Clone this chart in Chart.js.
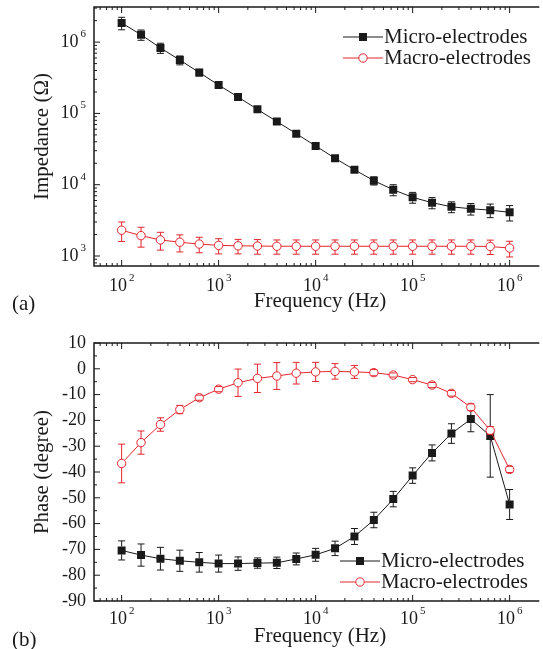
<!DOCTYPE html>
<html>
<head>
<meta charset="utf-8">
<script src="https://cdn.jsdelivr.net/npm/chart.js@4.4.0/dist/chart.umd.min.js"></script>
<style>
html,body{margin:0;background:#fff;overflow:hidden}
#wrap{position:relative;width:543px;height:649px;overflow:hidden}
canvas{position:absolute;left:0}
#chartA{top:0}
#chartB{top:318px}
</style>
</head>
<body>
<div id="wrap">
<canvas id="chartA" width="543" height="318"></canvas>
<canvas id="chartB" width="543" height="331"></canvas>
</div>
<script>
// measurement frequencies (Hz), 5 points per decade
const freq = [100, 158.5, 251.2, 398.1, 631, 1000, 1585, 2512, 3981, 6310, 10000,
  15850, 25120, 39810, 63100, 100000, 158500, 251200, 398100, 631000, 1000000];

const seriesNames = ['Micro-electrodes', 'Macro-electrodes'];

// (a) impedance magnitude (ohm) and SD
const microZ = [1.86e6, 1.27e6, 8.3e5, 5.6e5, 3.75e5, 2.5e5, 1.7e5, 1.14e5, 7.7e4, 5.2e4, 3.5e4,
  2.35e4, 1.62e4, 1.14e4, 8.5e3, 6.65e3, 5.6e3, 4.9e3, 4.6e3, 4.4e3, 4.1e3];
const microZErr = [3.7e5, 2.1e5, 1.35e5, 8e4, 4e4, 2e4, 1.2e4, 8e3, 6e3, 4e3, 2.5e3,
  1.8e3, 1.2e3, 1.5e3, 1.5e3, 1.15e3, 1.0e3, 850, 850, 950, 1000];
const macroZ = [2300, 1930, 1680, 1560, 1470, 1410, 1390, 1380, 1370, 1370, 1370,
  1370, 1370, 1370, 1370, 1370, 1370, 1370, 1370, 1360, 1290];
const macroZErr = [700, 600, 470, 420, 360, 340, 320, 320, 310, 310, 310,
  310, 310, 310, 310, 310, 310, 310, 310, 310, 320];

// (b) phase (degree) and SD
const microPhase = [-70.4, -72.2, -73.6, -74.4, -75.0, -75.5, -75.5, -75.3, -75.2, -73.7, -72.1,
  -69.6, -65.0, -58.6, -50.5, -41.4, -32.6, -25.1, -19.5, -26.0, -52.6];
const microPhaseErr = [3.7, 4.3, 4.4, 4.1, 3.8, 3.3, 2.6, 2.0, 2.2, 2.3, 2.5,
  2.8, 3.1, 3.0, 3.0, 3.0, 3.1, 3.8, 4.9, 16.0, 5.8];
const macroPhase = [-36.7, -28.6, -21.6, -15.8, -11.2, -7.9, -5.4, -3.7, -2.8, -1.7, -1.2,
  -1.0, -1.2, -1.5, -2.4, -4.2, -6.3, -9.5, -14.9, -23.9, -39.0];
const macroPhaseErr = [7.5, 4.5, 2.6, 1.6, 1.0, 1.0, 5.3, 5.5, 5.2, 4.2, 3.7,
  3.0, 2.5, 1.2, 0.8, 0.8, 1.0, 1.1, 1.3, 1.5, 1.2];

// tick labels
const xTickValues = [1e2, 1e3, 1e4, 1e5, 1e6];
const xTickExp = ['2', '3', '4', '5', '6'];
const zTickValues = [1e3, 1e4, 1e5, 1e6];
const zTickExp = ['3', '4', '5', '6'];
const phaseTickValues = [10, 0, -10, -20, -30, -40, -50, -60, -70, -80, -90];
const phaseTickLabels = ['10', '0', '-10', '-20', '-30', '-40', '-50', '-60', '-70', '-80', '-90'];

const FONT = '"Liberation Serif", "Times New Roman", serif';
const INK = '#1a1a1a';
const RED = '#e4262d';

function pts(ys) { return freq.map((f, i) => ({x: f, y: ys[i]})); }

function line(ctx, x1, y1, x2, y2) {
  ctx.beginPath(); ctx.moveTo(x1, y1); ctx.lineTo(x2, y2); ctx.stroke();
}

// "10" with a raised exponent; align 'center' or 'right' at x
function drawPow(ctx, exp, x, y, size, align) {
  const sup = Math.round(size * 0.62);
  ctx.font = size + 'px ' + FONT;
  const wb = ctx.measureText('10').width;
  ctx.font = sup + 'px ' + FONT;
  const ws = ctx.measureText(exp).width + 2;
  const x0 = align === 'right' ? x - wb - ws : x - (wb + ws) / 2;
  ctx.textAlign = 'left'; ctx.textBaseline = 'middle';
  ctx.font = size + 'px ' + FONT;
  ctx.fillText('10', x0, y);
  ctx.font = sup + 'px ' + FONT;
  ctx.fillText(exp, x0 + wb + 2, y - size * 0.44);
}

function drawMarker(ctx, style, x, y, color) {
  ctx.strokeStyle = color; ctx.lineWidth = 1;
  if (style === 'rect') {
    ctx.fillStyle = color;
    ctx.fillRect(x - 4, y - 4, 8, 8);
  } else {
    ctx.fillStyle = '#fff';
    ctx.beginPath(); ctx.arc(x, y, 4.2, 0, Math.PI * 2); ctx.fill(); ctx.stroke();
  }
}

const framePlugin = {
  id: 'frame',
  // error bars, drawn over each dataset's markers
  afterDatasetDraw(chart, args) {
    const ds = chart.data.datasets[args.index];
    if (!ds.errors) return;
    const ctx = chart.ctx, ys = chart.scales.y;
    const r = ds.pointStyle === 'rect' ? 4 : 4.2;
    ctx.save();
    ctx.strokeStyle = ds.borderColor; ctx.lineWidth = 1;
    args.meta.data.forEach((pt, i) => {
      const v = ds.data[i].y, e = ds.errors[i];
      const y1 = ys.getPixelForValue(v + e), y2 = ys.getPixelForValue(v - e);
      if (pt.y - y1 > r) line(ctx, pt.x, y1, pt.x, pt.y - r);
      if (y2 - pt.y > r) line(ctx, pt.x, pt.y + r, pt.x, y2);
      line(ctx, pt.x - 3.5, y1, pt.x + 3.5, y1);
      line(ctx, pt.x - 3.5, y2, pt.x + 3.5, y2);
    });
    ctx.restore();
  },
  afterDraw(chart, args, o) {
    const ctx = chart.ctx;
    const {left, right, top, bottom} = chart.chartArea;
    const xs = chart.scales.x, ys = chart.scales.y;
    ctx.save();
    ctx.strokeStyle = INK; ctx.fillStyle = INK;
    // frame: the right edge runs off the picture
    ctx.lineWidth = 1.5;
    ctx.beginPath();
    ctx.moveTo(right + 2, top); ctx.lineTo(left, top);
    ctx.lineTo(left, bottom); ctx.lineTo(right + 2, bottom);
    ctx.stroke();
    ctx.lineWidth = 1;
    // x ticks, pointing inward on bottom and top
    xTickValues.forEach((v, i) => {
      const px = xs.getPixelForValue(v);
      line(ctx, px, bottom, px, bottom - 6);
      line(ctx, px, top, px, top + 6);
      drawPow(ctx, xTickExp[i], px, bottom + o.xLabelGap, 18, 'center');
    });
    for (let d = 1; d <= 6; d++) {
      for (let m = 2; m <= 9; m++) {
        const v = m * Math.pow(10, d);
        if (v <= xs.min || v >= xs.max) continue;
        const px = xs.getPixelForValue(v);
        line(ctx, px, bottom, px, bottom - 3);
        line(ctx, px, top, px, top + 3);
      }
    }
    // y ticks
    if (o.yLog) {
      zTickValues.forEach((v, i) => {
        const py = ys.getPixelForValue(v);
        line(ctx, left, py, left + 6, py);
        drawPow(ctx, zTickExp[i], left - 8, py, 18, 'right');
      });
      for (let d = 2; d <= 6; d++) {
        for (let m = 2; m <= 9; m++) {
          const v = m * Math.pow(10, d);
          if (v <= ys.min || v >= ys.max) continue;
          const py = ys.getPixelForValue(v);
          line(ctx, left, py, left + 3, py);
        }
      }
    } else {
      ctx.font = '18px ' + FONT;
      ctx.textAlign = 'right'; ctx.textBaseline = 'middle';
      phaseTickValues.forEach((v, i) => {
        const py = ys.getPixelForValue(v);
        line(ctx, left, py, left + 6, py);
        ctx.fillText(phaseTickLabels[i], left - 8, py);
        if (v > ys.min) {
          const pm = ys.getPixelForValue(v - 5);
          line(ctx, left, pm, left + 3, pm);
        }
      });
    }
    // axis titles
    ctx.font = '21px ' + FONT;
    ctx.textAlign = 'center'; ctx.textBaseline = 'middle';
    ctx.fillText('Frequency (Hz)', 320, bottom + o.xTitleGap);
    ctx.save();
    ctx.translate(42, (top + bottom) / 2);
    ctx.rotate(-Math.PI / 2);
    ctx.fillText(o.yTitle, 0, 0);
    ctx.restore();
    // panel tag
    ctx.textAlign = 'left';
    ctx.fillText(o.tag, 12, o.tagY);
    // legend
    chart.data.datasets.forEach((ds, i) => {
      const y = o.legendY[i];
      ctx.strokeStyle = ds.borderColor; ctx.lineWidth = 1;
      line(ctx, o.legendX, y, o.legendX + 40, y);
      drawMarker(ctx, ds.pointStyle, o.legendX + 20, y, ds.borderColor);
      ctx.fillStyle = INK;
      ctx.font = '21px ' + FONT;
      ctx.textAlign = 'left'; ctx.textBaseline = 'middle';
      ctx.fillText(ds.label, o.legendX + 41, y);
    });
    ctx.restore();
  }
};

function makeDatasets(microY, microE, macroY, macroE) {
  return [{
    label: seriesNames[0], data: pts(microY), errors: microE,
    borderColor: INK, backgroundColor: INK, borderWidth: 1,
    pointStyle: 'rect', pointRadius: 5.66, pointBorderWidth: 0,
    order: 1
  }, {
    label: seriesNames[1], data: pts(macroY), errors: macroE,
    borderColor: RED, backgroundColor: '#fff', borderWidth: 1,
    pointStyle: 'circle', pointRadius: 4.2, pointBorderWidth: 1,
    order: 0
  }];
}

function baseOptions(yScale, padding, frame) {
  return {
    responsive: false,
    animation: false,
    layout: {padding: padding},
    elements: {line: {tension: 0}},
    plugins: {legend: {display: false}, tooltip: {enabled: false}, frame: frame},
    scales: {
      x: {type: 'logarithmic', min: 51.9, max: 1.93e6, display: false},
      y: yScale
    }
  };
}

new Chart(document.getElementById('chartA'), {
  type: 'line',
  data: {datasets: makeDatasets(microZ, microZErr, macroZ, macroZErr)},
  options: baseOptions(
    {type: 'logarithmic', min: 724, max: 3.11e6, display: false},
    {left: 94, top: 7, right: 0, bottom: 52},
    {yLog: true, yTitle: 'Impedance (\u03A9)', xLabelGap: 20, xTitleGap: 35,
     tag: '(a)', tagY: 304, legendX: 343, legendY: [37, 58]}),
  plugins: [framePlugin]
});

new Chart(document.getElementById('chartB'), {
  type: 'line',
  data: {datasets: makeDatasets(microPhase, microPhaseErr, macroPhase, macroPhaseErr)},
  options: baseOptions(
    {type: 'linear', min: -90, max: 10, display: false},
    {left: 94, top: 25, right: 0, bottom: 48},
    {yLog: false, yTitle: 'Phase (degree)', xLabelGap: 18, xTitleGap: 35,
     tag: '(b)', tagY: 322, legendX: 340, legendY: [243, 264]}),
  plugins: [framePlugin]
});
</script>
</body>
</html>
